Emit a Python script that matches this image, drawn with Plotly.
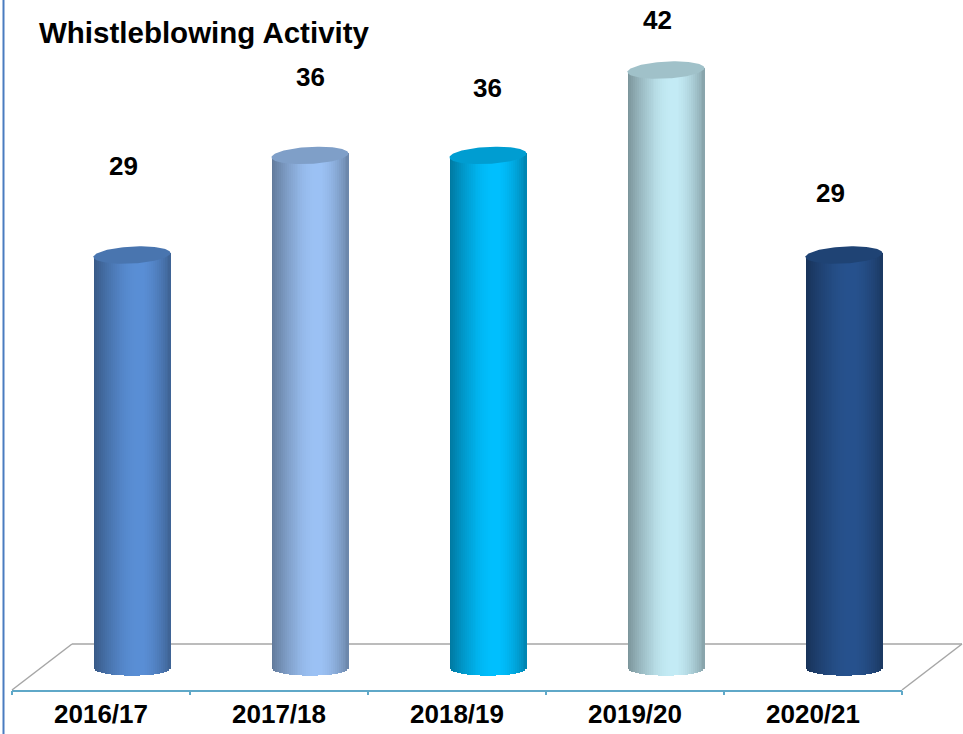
import numpy as np
import plotly.graph_objects as go

# ---- data ----
categories = ["2016/17", "2017/18", "2018/19", "2019/20", "2020/21"]
values = [29, 36, 36, 42, 29]
title_text = "Whistleblowing Activity"

# ---- style ----
peak_colors = ["#5a8fd6", "#9cc2f5", "#00c0ff", "#c4ecf6", "#27528e"]
label_yshift = [89, 78, 67, 50, 62]
label_xshift = [-9, 0, -1, -9, -14]
FONT = "Liberation Sans, Arial, Helvetica, sans-serif"

W, H = 963, 734
L, R, T, B = 12, 61, 0, 44
plot_w = W - L - R
plot_h = H - T - B
px_y = 14.23            # pixels per unit on y
zero_px = 667.7         # pixel row of value 0 (from top)
y_range = [-(plot_h - zero_px) / px_y, zero_px / px_y]
n = len(categories)
x_range = [-0.5, n - 0.5]
px_x = plot_w / n

depth = 31 / px_x       # cylinders sit mid-depth on the floor
half_w = 38.5 / px_x
b_bot = 8 / px_y
b_top = 8.5 / px_y
tilt = 2 / px_y
N = 40


def hex2rgb(h):
    h = h.lstrip("#")
    return [int(h[i:i + 2], 16) for i in (0, 2, 4)]


def shade(h, f):
    r, g, b = hex2rgb(h)
    return "rgb(%d,%d,%d)" % (min(255, r * f), min(255, g * f), min(255, b * f))


def light(u):
    d = u - 0.2
    w = 1.2 if d < 0 else 0.9
    return 0.62 + 0.38 * np.cos(min(abs(d) / w, 1.0) * np.pi / 2)


fig = go.Figure()
xs = list(range(n))
sw = 2 * half_w / N
for k in range(N):
    u = -1 + (2 * k + 1) / N
    depth_bot = b_bot * np.sqrt(max(0.0, 1 - u * u))
    fig.add_trace(go.Bar(
        x=xs,
        y=[v + tilt * u + depth_bot for v in values],
        base=[-depth_bot] * n,
        offset=depth - half_w + k * sw,
        width=sw * (1.4 if k < N - 1 else 1.0),
        marker=dict(color=[shade(c, light(u)) for c in peak_colors], line=dict(width=0)),
        hoverinfo="skip", showlegend=False,
    ))

t = np.linspace(0, 2 * np.pi, 120)
for i, v in enumerate(values):
    fig.add_trace(go.Scatter(
        x=i + depth + half_w * np.cos(t),
        y=v + b_top * np.sin(t) + tilt * np.cos(t),
        mode="lines", fill="toself", line=dict(width=0),
        fillcolor=shade(peak_colors[i], 0.82),
        hoverinfo="skip", showlegend=False,
    ))

# dummy trace for the boundary-tick axis
fig.add_trace(go.Scatter(x=[None], y=[None], xaxis="x2", showlegend=False, hoverinfo="skip"))

annotations = []
for i, v in enumerate(values):
    annotations.append(dict(
        x=i + depth, y=v, xref="x", yref="y", text=str(v), showarrow=False,
        xshift=label_xshift[i], yshift=label_yshift[i],
        font=dict(family=FONT, size=26, color="black", weight="bold"),
    ))
annotations.append(dict(
    x=(37 - L) / plot_w, y=(plot_h - (32 - T)) / plot_h, xref="paper", yref="paper",
    xanchor="left", yanchor="middle", text=title_text, showarrow=False,
    font=dict(family=FONT, size=29.5, color="black", weight="bold"),
))


def pxx(p):
    return (p - L) / plot_w


def pxy(p):
    return (plot_h - (p - T)) / plot_h


floor_col = "#a6a6a6"
shapes = [
    dict(type="line", xref="paper", yref="paper", x0=pxx(72), y0=pxy(644), x1=pxx(962), y1=pxy(644),
         line=dict(color=floor_col, width=1.5), layer="below"),
    dict(type="line", xref="paper", yref="paper", x0=pxx(12), y0=pxy(690), x1=pxx(72), y1=pxy(644),
         line=dict(color=floor_col, width=1.5), layer="below"),
    dict(type="line", xref="paper", yref="paper", x0=pxx(902), y0=pxy(690), x1=pxx(962), y1=pxy(644),
         line=dict(color=floor_col, width=1.5), layer="below"),
    dict(type="line", xref="paper", yref="paper", x0=pxx(3.5), y0=pxy(H), x1=pxx(3.5), y1=pxy(0),
         line=dict(color="#4a7cc0", width=2)),
]

fig.update_layout(
    width=W, height=H,
    margin=dict(l=L, r=R, t=T, b=B),
    paper_bgcolor="white", plot_bgcolor="white",
    barmode="overlay", bargap=0,
    showlegend=False,
    xaxis=dict(range=x_range, tickvals=xs, ticktext=categories, ticks="",
               showline=True, linecolor="#5fa8c8", linewidth=2,
               showgrid=False, zeroline=False, fixedrange=True,
               tickfont=dict(family=FONT, size=26, color="black", weight="bold")),
    xaxis2=dict(range=x_range, overlaying="x", anchor="y", side="bottom",
                tickvals=[i - 0.5 for i in range(n + 1)], ticks="outside", ticklen=4,
                tickcolor="#5fa8c8", tickwidth=1.5, showticklabels=False,
                showline=False, showgrid=False, zeroline=False),
    yaxis=dict(range=y_range, visible=False, showgrid=False, zeroline=False, fixedrange=True),
    annotations=annotations,
    shapes=shapes,
)

fig.write_html("out.html")
